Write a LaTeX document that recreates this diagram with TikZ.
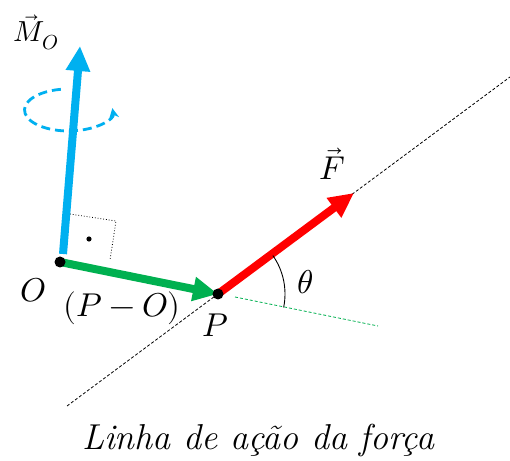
\documentclass[tikz,border=0pt]{standalone}
\usepackage{unicode-math}
\usetikzlibrary{arrows.meta, backgrounds}

\definecolor{momblue}{RGB}{0,176,240}
\definecolor{posgreen}{RGB}{0,176,80}
\definecolor{forcered}{RGB}{255,0,0}

\begin{document}
\begin{tikzpicture}[
            x=1pt, y=1pt,
            background rectangle/.style={fill=white},
            show background rectangle,
            semithick
        ]

        \tikzstyle{vector}=[
            line width=8pt,
            -{Triangle[length=25pt,width=23pt]}
        ]
        \tikzstyle{symb}=[
            inner sep=0pt,
            font=\fontsize{33}{40}\selectfont
        ]
        \tikzstyle{guide}=[
            line width=0.8pt,
            dash pattern=on 3pt off 2pt
        ]

        \useasboundingbox (0,0) rectangle (510,460);

        % points of the sketch
        \coordinate (O) at (60,198);
        \coordinate (P) at (218,166);
        \coordinate (mbase) at (63,206);
        \coordinate (mtip) at (80,414);
        \coordinate (ftip) at (354,267);
        \coordinate (la) at (67,54);
        \coordinate (lb) at (510,383);
        \coordinate (ga) at (235,163);
        \coordinate (gb) at (378,134);
        \coordinate (ell) at (68.5,350);

        % line of action
        \draw[guide] (la) -- (lb);
        \draw[guide, posgreen] (ga) -- (gb);

        % right angle mark
        \draw[line width=0.8pt, dotted] (70,246) -- (116,239) -- (110,200);
        \fill (89,221) circle (2.6);

        % rotation sense
        \draw[momblue, line width=2.8pt, dash pattern=on 9pt off 5pt,
            -{Stealth[length=10pt,width=10pt]}]
            ([shift={(100:44 and 21)}]ell) arc[start angle=100, end angle=365,
            x radius=44, y radius=21];

        % vectors
        \draw[vector, momblue] (mbase) -- (mtip);
        \draw[vector, posgreen] (O) -- (P);
        \draw[vector, forcered] (P) -- (ftip);

        \draw[line width=0.9pt] ([shift={(-11.5:67)}]P)
            arc[start angle=-11.5, end angle=35, radius=67];

        \fill (O) circle (5.5);
        \fill (P) circle (5.5);

        \node[symb, font=\fontsize{29}{34}\selectfont] (mlab) at (36,428) {$\vec{M}_O$};
        \node[symb] (flab) at (332,296) {$\vec{F}$};
        \node[symb] (olab) at (33,170) {$O$};
        \node[symb] (plab) at (215,135) {$P$};
        \node[symb] (polab) at (122,152) {$(P-O)$};
        \node[symb] (thlab) at (305,178) {$\theta$};
        \node[symb, font=\fontsize{36}{42}\selectfont\itshape\addfontfeatures{LetterSpace=9}]
            (line) at (258,20) {Linha de ação da força};

    \end{tikzpicture}
\end{document}
